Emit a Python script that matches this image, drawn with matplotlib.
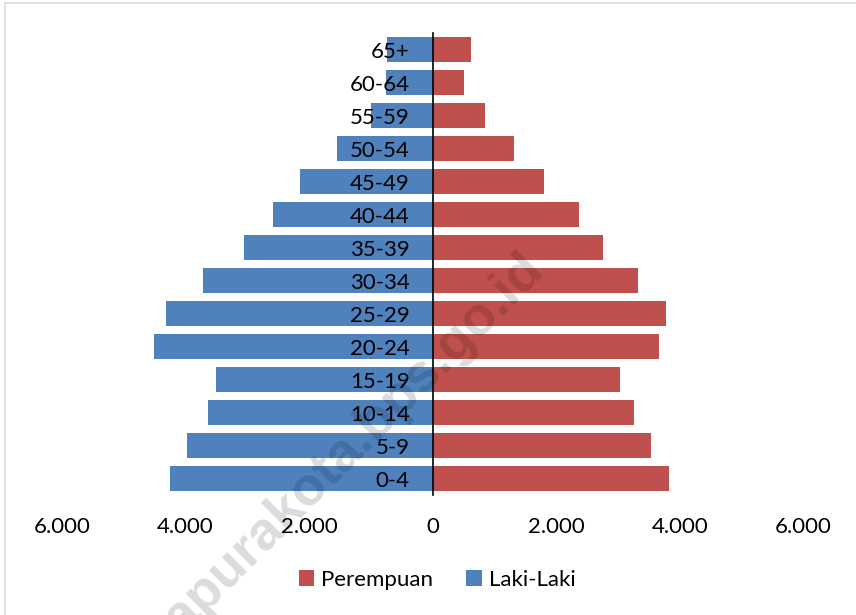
import matplotlib
matplotlib.use("Agg")
import matplotlib.pyplot as plt
from matplotlib.patches import Rectangle
from matplotlib.ticker import FuncFormatter

# data, youngest group first
kelompok_umur = ["0-4", "5-9", "10-14", "15-19", "20-24", "25-29", "30-34",
                 "35-39", "40-44", "45-49", "50-54", "55-59", "60-64", "65+"]
laki_laki = [4250, 3970, 3630, 3500, 4500, 4310, 3720,
             3050, 2590, 2150, 1540, 1000, 750, 740]
perempuan = [3830, 3540, 3250, 3030, 3670, 3780, 3320,
             2760, 2360, 1800, 1310, 850, 500, 620]
x_ticks = [-6000, -4000, -2000, 0, 2000, 4000, 6000]

biru = "#4F81BD"
merah = "#C0504D"

plt.rcParams['font.family'] = ['Lato', 'DejaVu Sans']

fig = plt.figure(figsize=(8.56, 6.15), dpi=100)
ax = fig.add_axes([0.0721, 0.1951, 0.8666, 0.7512])

pos = list(range(len(kelompok_umur)))
ax.barh(pos, [-v for v in laki_laki], height=0.76, color=biru, label="Laki-Laki")
ax.barh(pos, perempuan, height=0.76, color=merah, label="Perempuan")

ax.set_xlim(-6000, 6000)
ax.set_ylim(-0.5, len(kelompok_umur) - 0.5)
ax.set_xticks(x_ticks)
ax.xaxis.set_major_formatter(FuncFormatter(lambda v, p: f"{abs(int(v)):,}".replace(",", ".")))
ax.set_yticks(pos)
ax.set_yticklabels(kelompok_umur)

# vertical axis at zero
for s in ["top", "right", "bottom"]:
    ax.spines[s].set_visible(False)
ax.spines["left"].set_position(("data", 0))
ax.spines["left"].set_linewidth(1.2)
ax.spines["left"].set_zorder(5)
ax.tick_params(axis="y", length=0, pad=16.5, labelsize=16)
ax.tick_params(axis="x", length=0, pad=16, labelsize=16)

h, l = ax.get_legend_handles_labels()
fig.legend(h[::-1], l[::-1], loc="center", bbox_to_anchor=(0.5105, 0.0576),
           ncol=2, frameon=False, fontsize=16, handlelength=0.7, handleheight=0.7,
           handletextpad=0.3, columnspacing=1.5)

# chart border
fig.patches.append(Rectangle((5 / 856, -0.2), 1.2, 1.2 - 3 / 615, transform=fig.transFigure,
                             fill=False, edgecolor="#d9d9d9", linewidth=1.2))

# watermark
fig.text(537 / 856, 1 - 264 / 615, "jayapurakota.bps.go.id", rotation=45,
         rotation_mode="anchor", ha="right", va="center",
         fontsize=39, fontweight="bold", family="Liberation Sans",
         color="black", alpha=0.14)

fig.savefig("out.png", dpi=100)
